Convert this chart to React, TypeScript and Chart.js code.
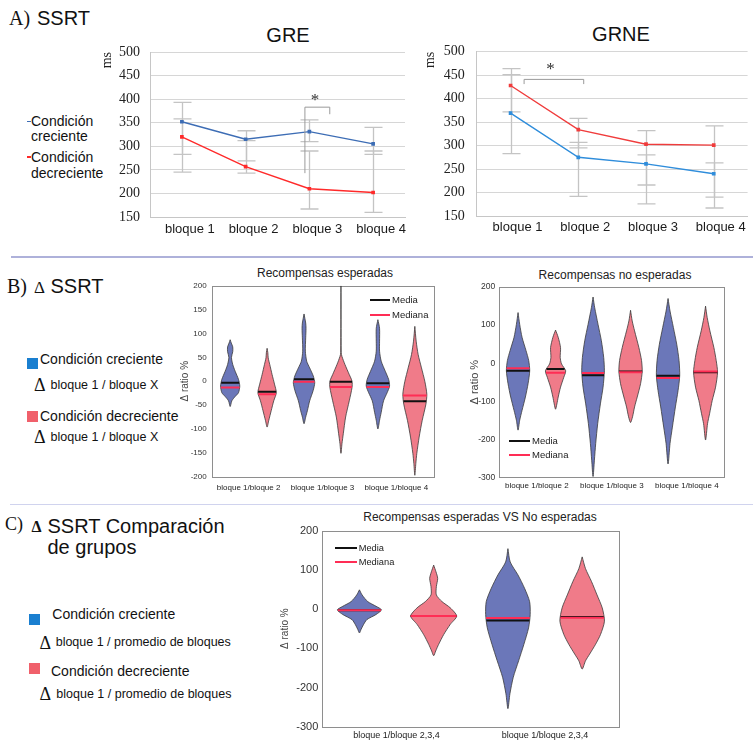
import React, { useEffect, useRef } from "react";
import { Chart, registerables } from "chart.js";

Chart.register(...registerables);

const SANS = "'Liberation Sans', Arial, sans-serif";
const SERIF = "'Liberation Serif', 'Times New Roman', serif";

// ---------------- Panel A data ----------------
const blocks = ["bloque 1", "bloque 2", "bloque 3", "bloque 4"];
const greCreciente = [352, 315, 331, 305];
const greDecreciente = [320, 257, 210, 202];
const greCrecienteLow = [283, 269, 310, 283];
const greCrecienteHigh = [358, 333, 356, 340];
const greDecrecienteLow = [245, 243, 167, 160];
const greDecrecienteHigh = [393, 312, 290, 290];
const grneCreciente = [369, 275, 261, 240];
const grneDecreciente = [428, 334, 303, 301];
const grneCrecienteLow = [283, 192, 176, 167];
const grneCrecienteHigh = [451, 307, 280, 263];
const grneDecrecienteLow = [372, 295, 216, 190];
const grneDecrecienteHigh = [464, 358, 332, 342];
// significance bracket: [xStart, xEnd, yTop, yLeftEnd, yRightEnd, starX, starY]
const greBracket = [1.93, 2.32, 383, 243, 368, 2.09, 403];
const grneBracket = [0.2, 1.08, 441, 431, 431, 0.59, 469];

// ---------------- Panel B data ----------------
const pairLabels = ["bloque 1/bloque 2", "bloque 1/bloque 3", "bloque 1/bloque 4"];
// violin profiles: [value, half-width (fraction of slot)]
const espV1 = [[87, 0], [80, 0.03], [72, 0.07], [62, 0.07], [50, 0.035], [35, 0.07], [21, 0.135], [4, 0.225], [-10, 0.26], [-24, 0.225], [-32, 0.135], [-41, 0.045], [-53, 0]];
const espV2 = [[69, 0], [60, 0.02], [49, 0.03], [35, 0.072], [14, 0.135], [-6, 0.2], [-24, 0.25], [-41, 0.18], [-62, 0.11], [-82, 0.045], [-96, 0]];
const espV3 = [[141, 0], [122, 0.045], [111, 0.054], [91, 0.045], [63, 0.036], [42, 0.072], [28, 0.153], [11, 0.25], [-3, 0.29], [-20, 0.245], [-41, 0.153], [-62, 0.09], [-75, 0.045], [-89, 0]];
const espV4 = [[200, 0], [60, 0.006], [52, 0.027], [35, 0.108], [14, 0.225], [0, 0.3], [-13, 0.3], [-41, 0.225], [-75, 0.126], [-110, 0.063], [-131, 0.027], [-151, 0]];
const espV5 = [[129, 0], [111, 0.045], [84, 0.045], [63, 0.045], [42, 0.09], [21, 0.2], [4, 0.29], [-10, 0.316], [-24, 0.25], [-41, 0.153], [-65, 0.09], [-82, 0.045], [-100, 0]];
const espV6 = [[115, 0], [84, 0.036], [56, 0.09], [28, 0.18], [0, 0.27], [-27, 0.325], [-48, 0.3], [-82, 0.2], [-117, 0.117], [-151, 0.054], [-172, 0.027], [-197, 0]];
const esperadasMedia = [-3, -22, 4, -1, -4, -42];
const esperadasMediana = [-13, -27, -1, -12, -12, -30];

const neV1 = [[133, 0], [102, 0.044], [68, 0.107], [33, 0.213], [7, 0.284], [-20, 0.311], [-54, 0.267], [-89, 0.196], [-124, 0.107], [-150, 0.044], [-176, 0]];
const neV2 = [[87, 0], [68, 0.071], [41, 0.133], [15, 0.124], [-2, 0.16], [-20, 0.27], [-37, 0.22], [-63, 0.133], [-89, 0.071], [-107, 0.036], [-121, 0]];
const neV3 = [[174, 0], [146, 0.044], [102, 0.133], [59, 0.222], [15, 0.284], [-20, 0.302], [-63, 0.267], [-107, 0.196], [-159, 0.124], [-211, 0.071], [-255, 0.036], [-298, 0]];
const neV4 = [[139, 0], [111, 0.044], [85, 0.107], [41, 0.222], [7, 0.293], [-22, 0.311], [-54, 0.267], [-89, 0.178], [-115, 0.107], [-141, 0.053], [-156, 0]];
const neV5 = [[170, 0], [137, 0.053], [94, 0.142], [50, 0.231], [7, 0.293], [-33, 0.311], [-72, 0.267], [-115, 0.196], [-168, 0.116], [-211, 0.053], [-265, 0]];
const neV6 = [[150, 0], [120, 0.044], [85, 0.116], [41, 0.222], [7, 0.284], [-24, 0.32], [-63, 0.267], [-98, 0.178], [-133, 0.107], [-159, 0.053], [-202, 0]];
const noEsperadasMedia = [-20, -15, -32, -22, -33, -24];
const noEsperadasMediana = [-13, -25, -26, -24, -39, -22];

// ---------------- Panel C data ----------------
const compLabels = ["bloque 1/bloque 2,3,4", "bloque 1/bloque 2,3,4"];
const cV1 = [[49, 0], [36, 0.036], [19, 0.112], [7, 0.224], [-2, 0.296], [-14, 0.224], [-27, 0.1], [-40, 0.054], [-52, 0.022], [-61, 0]];
const cV2 = [[112, 0], [95, 0.031], [78, 0.054], [57, 0.036], [36, 0.036], [19, 0.112], [3, 0.224], [-18, 0.31], [-39, 0.224], [-65, 0.135], [-90, 0.067], [-107, 0.027], [-119, 0]];
const cV3 = [[154, 0], [120, 0.031], [87, 0.135], [53, 0.224], [19, 0.292], [-14, 0.3], [-48, 0.278], [-90, 0.215], [-132, 0.144], [-174, 0.072], [-216, 0.027], [-254, 0]];
const cV4 = [[133, 0], [103, 0.045], [70, 0.126], [36, 0.2], [3, 0.27], [-31, 0.3], [-65, 0.247], [-90, 0.18], [-115, 0.1], [-132, 0.045], [-153, 0]];
const compMedia = [-3, -18, -29, -20];
const compMediana = [-3, -18, -23, -22];

// ---------------- styles ----------------
const BLUE_V = "#6b77b9";
const RED_V = "#f07b89";
const MEAN_C = "#111111";
const MEDIAN_C = "#ff2d55";
const ERR_C = "#c4c4c4";

type Box = { x: number; y: number; w: number; h: number };
type Area = { l: number; t: number; r: number; b: number };

function frame(c: Box, a: Area) {
  return {
    padding: { top: a.t - c.y, right: c.x + c.w - a.r, left: 0, bottom: 0 },
    yW: a.l - c.x,
    xH: c.y + c.h - a.b,
  };
}

const errorBarPlugin = {
  id: "errorBars",
  beforeDatasetsDraw(chart: any, _a: any, opts: any) {
    const { ctx } = chart;
    const xs = chart.scales.x;
    const ys = chart.scales.y;
    ctx.save();
    ctx.strokeStyle = opts.color;
    ctx.lineWidth = opts.width;
    for (const set of opts.sets) {
      set.low.forEach((lo: number, i: number) => {
        const hi = set.high[i];
        const x = Math.round(xs.getPixelForValue(i)) + 0.5;
        const y1 = ys.getPixelForValue(lo);
        const y2 = ys.getPixelForValue(hi);
        ctx.beginPath();
        ctx.moveTo(x, y1);
        ctx.lineTo(x, y2);
        ctx.moveTo(x - opts.cap, y1);
        ctx.lineTo(x + opts.cap, y1);
        ctx.moveTo(x - opts.cap, y2);
        ctx.lineTo(x + opts.cap, y2);
        ctx.stroke();
      });
    }
    ctx.restore();
  },
};

const bracketPlugin = {
  id: "bracket",
  afterDatasetsDraw(chart: any, _a: any, opts: any) {
    const { ctx } = chart;
    const xs = chart.scales.x;
    const ys = chart.scales.y;
    const [x0, x1, yTop, yL, yR, sx, sy] = opts.data;
    ctx.save();
    ctx.strokeStyle = "#9a9a9a";
    ctx.lineWidth = 1;
    ctx.beginPath();
    ctx.moveTo(xs.getPixelForValue(x0), ys.getPixelForValue(yL));
    ctx.lineTo(xs.getPixelForValue(x0), ys.getPixelForValue(yTop));
    ctx.lineTo(xs.getPixelForValue(x1), ys.getPixelForValue(yTop));
    ctx.lineTo(xs.getPixelForValue(x1), ys.getPixelForValue(yR));
    ctx.stroke();
    ctx.fillStyle = "#333";
    ctx.font = `17px ${SERIF}`;
    ctx.textAlign = "center";
    ctx.textBaseline = "middle";
    ctx.fillText("*", xs.getPixelForValue(sx), ys.getPixelForValue(sy) + 3);
    ctx.restore();
  },
};

const boxFramePlugin = {
  id: "boxFrame",
  beforeDatasetsDraw(chart: any, _a: any, opts: any) {
    const { ctx, chartArea: a } = chart;
    ctx.save();
    ctx.strokeStyle = opts.color || "#8f8f8f";
    ctx.lineWidth = 1;
    ctx.strokeRect(Math.round(a.left) + 0.5, Math.round(a.top) + 0.5, Math.round(a.right - a.left), Math.round(a.bottom - a.top));
    ctx.restore();
  },
};

function lineConfig(p: {
  box: Box; area: Area; crec: number[]; decr: number[]; blue: string; red: string;
  sets: any[]; bracket: number[]; tickPad: number; titleCenterX: number; labelOffset: number; xPad: number;
}) {
  const f = frame(p.box, p.area);
  return {
    type: "line",
    data: {
      labels: blocks,
      datasets: [
        { label: "Condición creciente", data: p.crec, borderColor: p.blue, backgroundColor: p.blue, borderWidth: 1.4, pointRadius: 1.6, pointStyle: "rect", tension: 0 },
        { label: "Condición decreciente", data: p.decr, borderColor: p.red, backgroundColor: p.red, borderWidth: 1.4, pointRadius: 1.6, pointStyle: "rect", tension: 0 },
      ],
    },
    options: {
      responsive: false,
      animation: false,
      layout: { padding: f.padding },
      plugins: {
        legend: { display: false },
        tooltip: { enabled: false },
        errorBars: { sets: p.sets, color: ERR_C, width: 1.3, cap: 9 },
        bracket: { data: p.bracket },
      },
      scales: {
        x: {
          type: "category",
          offset: true,
          grid: { display: false, drawTicks: false },
          border: { display: true, color: "#c6c6c6" },
          ticks: { font: { family: SANS, size: 13 }, color: "#1a1a1a", padding: p.xPad, labelOffset: p.labelOffset, maxRotation: 0, autoSkip: false },
          afterFit: (s: any) => { s.height = f.xH; },
        },
        y: {
          min: 150,
          max: 500,
          ticks: { stepSize: 50, font: { family: SERIF, size: 14 }, color: "#222", padding: p.tickPad },
          grid: { color: "#d6d6d6", drawTicks: false, lineWidth: 1 },
          border: { display: true, color: "#c6c6c6" },
          title: { display: true, text: "ms", font: { family: SERIF, size: 14 }, color: "#222", align: "end", padding: { top: p.titleCenterX - p.box.x - 8.4, bottom: 0 } },
          afterFit: (s: any) => { s.width = f.yW; },
        },
      },
    },
    plugins: [errorBarPlugin, bracketPlugin],
  };
}

function outline(c: number, prof: number[][]) {
  const right = prof.map(([v, w]) => ({ x: c + w, y: v }));
  const left = prof.slice().reverse().map(([v, w]) => ({ x: c - w, y: v }));
  return [...right, ...left.slice(1), right[0]];
}

function widthAt(prof: number[][], v: number) {
  for (let i = 0; i < prof.length - 1; i++) {
    const [v0, w0] = prof[i];
    const [v1, w1] = prof[i + 1];
    if (v <= v0 && v >= v1) {
      const t = v0 === v1 ? 0 : (v0 - v) / (v0 - v1);
      return w0 + (w1 - w0) * t;
    }
  }
  return 0;
}

function violinDatasets(profiles: number[][][], media: number[], mediana: number[]) {
  const ds: any[] = [];
  profiles.forEach((prof, i) => {
    ds.push({
      data: outline(i + 0.5, prof),
      borderColor: "#3a3a3a",
      borderWidth: 0.8,
      backgroundColor: i % 2 === 0 ? BLUE_V : RED_V,
      fill: "shape",
      pointRadius: 0,
      tension: 0.25,
      order: 3,
    });
  });
  profiles.forEach((prof, i) => {
    const w = widthAt(prof, media[i]);
    ds.push({ data: [{ x: i + 0.5 - w, y: media[i] }, { x: i + 0.5 + w, y: media[i] }], borderColor: MEAN_C, borderWidth: 2, pointRadius: 0, fill: false, order: 2 });
  });
  profiles.forEach((prof, i) => {
    const w = widthAt(prof, mediana[i]);
    ds.push({ data: [{ x: i + 0.5 - w, y: mediana[i] }, { x: i + 0.5 + w, y: mediana[i] }], borderColor: MEDIAN_C, borderWidth: 2, pointRadius: 0, fill: false, order: 1 });
  });
  return ds;
}

function violinConfig(p: {
  box: Box; area: Area; profiles: number[][][]; media: number[]; mediana: number[];
  slots: number; labelAt: number[]; labels: string[]; yMin: number; yMax: number; step: number;
  tickSize: number; tickPad: number; xSize: number; xPad: number; titleSize: number; titleCenterX: number;
}) {
  const f = frame(p.box, p.area);
  return {
    type: "line",
    data: { datasets: violinDatasets(p.profiles, p.media, p.mediana) },
    options: {
      responsive: false,
      animation: false,
      layout: { padding: f.padding },
      plugins: { legend: { display: false }, tooltip: { enabled: false }, boxFrame: { color: "#8e8e8e" } },
      scales: {
        x: {
          type: "linear",
          min: 0,
          max: p.slots,
          grid: { display: false, drawTicks: false },
          border: { display: false },
          ticks: {
            font: { family: SANS, size: p.xSize },
            color: "#222",
            padding: p.xPad,
            maxRotation: 0,
            autoSkip: false,
            callback: (_v: any, i: number) => p.labels[i],
          },
          afterBuildTicks: (s: any) => { s.ticks = p.labelAt.map((v) => ({ value: v })); },
          afterFit: (s: any) => { s.height = f.xH; },
        },
        y: {
          min: p.yMin,
          max: p.yMax,
          grid: { display: false, drawTicks: false },
          border: { display: false },
          ticks: { stepSize: p.step, font: { family: SANS, size: p.tickSize }, color: "#333", padding: p.tickPad },
          title: {
            display: true,
            text: "Δ ratio %",
            font: { family: SANS, size: p.titleSize },
            color: "#444",
            padding: { top: p.titleCenterX - p.box.x - p.titleSize * 0.6, bottom: 0 },
          },
          afterFit: (s: any) => { s.width = f.yW; },
        },
      },
    },
    plugins: [boxFramePlugin],
  };
}

function ChartCanvas({ box, make }: { box: Box; make: () => any }) {
  const ref = useRef<HTMLCanvasElement>(null);
  useEffect(() => {
    const chart = new Chart(ref.current as HTMLCanvasElement, make());
    return () => chart.destroy();
  }, []);
  return (
    <canvas
      ref={ref}
      width={box.w}
      height={box.h}
      style={{ position: "absolute", left: box.x, top: box.y, width: box.w, height: box.h }}
    />
  );
}

function T(props: { x: number; cy: number; size: number; family?: string; anchor?: "left" | "center"; color?: string; weight?: number; children: React.ReactNode }) {
  const { x, cy, size, family = SANS, anchor = "left", color = "#111", weight = 400, children } = props;
  return (
    <div
      style={{
        position: "absolute",
        left: x,
        top: cy - size * 0.6,
        fontSize: size,
        lineHeight: `${size * 1.2}px`,
        fontFamily: family,
        color,
        fontWeight: weight,
        whiteSpace: "nowrap",
        transform: anchor === "center" ? "translateX(-50%)" : undefined,
      }}
    >
      {children}
    </div>
  );
}

function R(props: { x: number; y: number; w: number; h: number; c: string; r?: number }) {
  return <div style={{ position: "absolute", left: props.x, top: props.y, width: props.w, height: props.h, background: props.c, borderRadius: props.r || 0 }} />;
}

function MiniLegend({ x, y1, y2, size, lineW }: { x: number; y1: number; y2: number; size: number; lineW: number }) {
  return (
    <>
      <R x={x} y={y1 - 1} w={lineW} h={2} c={MEAN_C} />
      <T x={x + lineW + 2} cy={y1} size={size} color="#222">Media</T>
      <R x={x} y={y2 - 1} w={lineW} h={2} c={MEDIAN_C} />
      <T x={x + lineW + 2} cy={y2} size={size} color="#222">Mediana</T>
    </>
  );
}

const GRE_BOX = { x: 95, y: 30, w: 320, h: 215 };
const GRE_AREA = { l: 150, t: 52, r: 405, b: 217 };
const GRNE_BOX = { x: 420, y: 30, w: 333, h: 215 };
const GRNE_AREA = { l: 476.7, t: 51.7, r: 753, b: 216 };
const BL_BOX = { x: 176, y: 276, w: 264, h: 224 };
const BL_AREA = { l: 211.7, t: 284, r: 433.3, b: 476.7 };
const BR_BOX = { x: 463, y: 278, w: 277, h: 222 };
const BR_AREA = { l: 499.3, t: 286, r: 724.3, b: 477.3 };
const C_BOX = { x: 270, y: 520, w: 360, h: 220 };
const C_AREA = { l: 322.3, t: 528.3, r: 619.3, b: 726.7 };

export default function App() {
  return (
    <div style={{ position: "absolute", left: 0, top: 0, width: 753, height: 740, background: "#fff", overflow: "hidden" }}>
      {/* ---------- Panel A ---------- */}
      <T x={9} cy={18} size={20} family={SERIF}>A)</T>
      <T x={37} cy={18} size={20}>SSRT</T>
      <T x={288} cy={34.5} size={20} anchor="center">GRE</T>
      <T x={621} cy={33.7} size={20} anchor="center">GRNE</T>

      <R x={26.5} y={121} w={4.5} h={1.4} c="#3d6db5" />
      <T x={31} cy={121.7} size={14}>Condición</T>
      <T x={31} cy={136.8} size={14}>creciente</T>
      <R x={26.5} y={156.3} w={4.5} h={1.4} c="#ff2a2a" />
      <R x={27.5} y={155.5} w={2.6} h={2.6} c="#ff2a2a" r={1.3} />
      <T x={31} cy={157.6} size={14}>Condición</T>
      <T x={31} cy={173.2} size={14}>decreciente</T>

      <ChartCanvas
        box={GRE_BOX}
        make={() =>
          lineConfig({
            box: GRE_BOX, area: GRE_AREA, crec: greCreciente, decr: greDecreciente,
            blue: "#3d6db5", red: "#ff2a2a",
            sets: [
              { low: greCrecienteLow, high: greCrecienteHigh },
              { low: greDecrecienteLow, high: greDecrecienteHigh },
            ],
            bracket: greBracket, tickPad: 10, titleCenterX: 107, labelOffset: 8, xPad: 5,
          })
        }
      />
      <ChartCanvas
        box={GRNE_BOX}
        make={() =>
          lineConfig({
            box: GRNE_BOX, area: GRNE_AREA, crec: grneCreciente, decr: grneDecreciente,
            blue: "#2f8ddb", red: "#f03c3c",
            sets: [
              { low: grneCrecienteLow, high: grneCrecienteHigh },
              { low: grneDecrecienteLow, high: grneDecrecienteHigh },
            ],
            bracket: grneBracket, tickPad: 12, titleCenterX: 430, labelOffset: 7, xPad: 4,
          })
        }
      />

      <div style={{ position: "absolute", left: 11, top: 256.3, width: 742, height: 1.4, background: "#aeb1da" }} />

      {/* ---------- Panel B ---------- */}
      <T x={7} cy={285.5} size={20} family={SERIF}>B)</T>
      <T x={34} cy={288.5} size={17} family={SERIF}>Δ</T>
      <T x={50.5} cy={285.5} size={20}>SSRT</T>

      <R x={27} y={358} w={11.3} h={10.7} c="#1a7fd0" />
      <T x={40} cy={359.5} size={14}>Condición creciente</T>
      <T x={34} cy={385.5} size={18} family={SERIF}>Δ</T>
      <T x={50.5} cy={385.5} size={12.5}>bloque 1 / bloque X</T>
      <R x={27} y={411} w={11.3} h={10.7} c="#f0606b" />
      <T x={40} cy={416.3} size={14}>Condición decreciente</T>
      <T x={34} cy={437.5} size={18} family={SERIF}>Δ</T>
      <T x={50.5} cy={437.5} size={12.5}>bloque 1 / bloque X</T>

      <T x={325} cy={273} size={12} anchor="center" color="#222">Recompensas esperadas</T>
      <ChartCanvas
        box={BL_BOX}
        make={() =>
          violinConfig({
            box: BL_BOX, area: BL_AREA,
            profiles: [espV1, espV2, espV3, espV4, espV5, espV6],
            media: esperadasMedia, mediana: esperadasMediana,
            slots: 6, labelAt: [1, 3, 5], labels: pairLabels,
            yMin: -200, yMax: 200, step: 50,
            tickSize: 8, tickPad: 5, xSize: 8, xPad: 6, titleSize: 10, titleCenterX: 185.7,
          })
        }
      />
      <MiniLegend x={370} y1={300} y2={314.5} size={9.5} lineW={20} />

      <T x={615} cy={275} size={12} anchor="center" color="#222">Recompensas no esperadas</T>
      <ChartCanvas
        box={BR_BOX}
        make={() =>
          violinConfig({
            box: BR_BOX, area: BR_AREA,
            profiles: [neV1, neV2, neV3, neV4, neV5, neV6],
            media: noEsperadasMedia, mediana: noEsperadasMediana,
            slots: 6, labelAt: [1, 3, 5], labels: pairLabels,
            yMin: -300, yMax: 200, step: 100,
            tickSize: 8.5, tickPad: 4, xSize: 8, xPad: 3.6, titleSize: 11, titleCenterX: 475,
          })
        }
      />
      <MiniLegend x={509.3} y1={441} y2={455} size={9.5} lineW={20.7} />

      <div style={{ position: "absolute", left: 10, top: 503.6, width: 743, height: 1.4, background: "#d0d3ee" }} />

      {/* ---------- Panel C ---------- */}
      <T x={5} cy={525} size={18} family={SERIF}>C)</T>
      <T x={31.5} cy={527} size={16} family={SERIF} weight={700}>Δ</T>
      <T x={47.5} cy={526} size={20}>SSRT Comparación</T>
      <T x={47.5} cy={546.5} size={20}>de grupos</T>

      <R x={29.3} y={614.3} w={10.7} h={10.7} c="#1a7fd0" />
      <T x={52.3} cy={614} size={14}>Condición creciente</T>
      <T x={39.5} cy={644} size={18} family={SERIF}>Δ</T>
      <T x={55.7} cy={642.8} size={12.5}>bloque 1 / promedio de bloques</T>
      <R x={29.3} y={663.3} w={10.7} h={10.7} c="#f0606b" />
      <T x={51} cy={671.7} size={14}>Condición decreciente</T>
      <T x={39.5} cy={695} size={18} family={SERIF}>Δ</T>
      <T x={56.3} cy={694.5} size={12.5}>bloque 1 / promedio de bloques</T>

      <T x={480} cy={517} size={12} anchor="center" color="#222">Recompensas esperadas VS No esperadas</T>
      <ChartCanvas
        box={C_BOX}
        make={() =>
          violinConfig({
            box: C_BOX, area: C_AREA,
            profiles: [cV1, cV2, cV3, cV4],
            media: compMedia, mediana: compMediana,
            slots: 4, labelAt: [1, 3], labels: compLabels,
            yMin: -300, yMax: 200, step: 100,
            tickSize: 11, tickPad: 4, xSize: 9, xPad: 3.9, titleSize: 10, titleCenterX: 285,
          })
        }
      />
      <MiniLegend x={335} y1={548.3} y2={562.3} size={9.3} lineW={21.7} />
    </div>
  );
}
